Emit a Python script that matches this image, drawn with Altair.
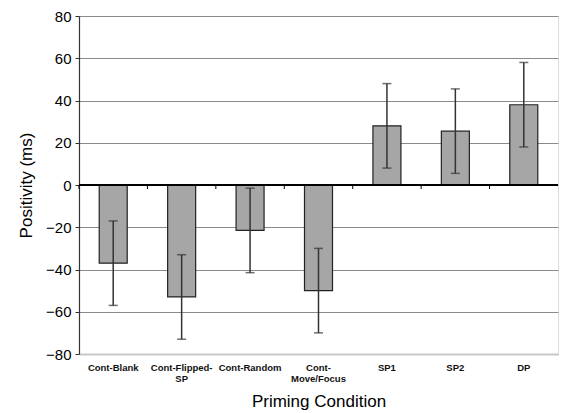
import altair as alt
import pandas as pd

categories = ["Cont-Blank", "Cont-Flipped-|SP", "Cont-Random", "Cont-|Move/Focus", "SP1", "SP2", "DP"]
means = [-37, -53, -21.5, -50, 28, 25.5, 38]
errors = [20, 20, 20, 20, 20, 20, 20]

df = pd.DataFrame({"cat": categories, "mean": means, "err": errors})
df["lo"] = df["mean"] - df["err"]
df["hi"] = df["mean"] + df["err"]

FONT = "Liberation Sans"
W, H = 479, 338

xscale = alt.Scale(domain=categories, paddingInner=0, paddingOuter=0)
yscale = alt.Scale(domain=[-80, 80], nice=False, zero=False)

x_main = alt.X("cat:N", scale=xscale, sort=categories,
               axis=alt.Axis(title="Priming Condition", labelAngle=0, orient="bottom",
                             labelExpr="split(datum.label, '|')",
                             labelFont=FONT, labelFontSize=9.5, labelFontWeight="bold",
                             labelColor="#111",
                             labelPadding=8, labelLineHeight=11,
                             titleFont=FONT, titleFontSize=17, titleFontWeight="normal",
                             titleColor="#000", titlePadding=11,
                             ticks=False, domainColor="#c8c8c8", domainWidth=2))

y_axis = alt.Axis(title="Positivity (ms)", values=list(range(-80, 81, 20)),
                  labelFont=FONT, labelFontSize=15, labelColor="#000",
                  titleFont=FONT, titleFontSize=17, titleFontWeight="normal",
                  titleColor="#000", titlePadding=10,
                  tickSize=4, tickColor="#333", labelPadding=4,
                  domainColor="#333", domainWidth=1.2,
                  grid=True, gridColor="#8a8a8a", gridWidth=1.2)

bars = alt.Chart(df).mark_bar(size=28, fill="#a6a6a6", stroke="#222", strokeWidth=1.2).encode(
    x=x_main, y=alt.Y("mean:Q", scale=yscale, axis=y_axis), y2=alt.datum(0)
)

zero = alt.Chart(df).mark_rule(color="#000", strokeWidth=1.5).encode(
    y=alt.datum(0, scale=yscale)
)

zero_ticks = alt.Chart(df).mark_rule(color="#000", strokeWidth=1, y2Offset=4).encode(
    x=alt.X("cat:N", scale=xscale, sort=categories, bandPosition=0, axis=None),
    y=alt.datum(0, scale=yscale),
    y2=alt.datum(0)
)

rules = alt.Chart(df).mark_rule(color="#333", strokeWidth=1.5).encode(
    x=alt.X("cat:N", scale=xscale, sort=categories, axis=None),
    y=alt.Y("lo:Q", scale=yscale), y2="hi:Q"
)
cap_lo = alt.Chart(df).mark_tick(color="#333", size=9, thickness=1.5).encode(
    x=alt.X("cat:N", scale=xscale, sort=categories, axis=None),
    y=alt.Y("lo:Q", scale=yscale)
)
cap_hi = alt.Chart(df).mark_tick(color="#333", size=9, thickness=1.5).encode(
    x=alt.X("cat:N", scale=xscale, sort=categories, axis=None),
    y=alt.Y("hi:Q", scale=yscale)
)

chart = alt.layer(bars, zero, zero_ticks, rules, cap_lo, cap_hi).resolve_axis(
    x="independent"
).properties(
    width=W, height=H, padding={"left": 9, "top": 1, "right": 0, "bottom": 0}
).configure_view(stroke=None).configure(background="white")

chart.save("out.html", embed_options={"renderer": "svg", "actions": False})
